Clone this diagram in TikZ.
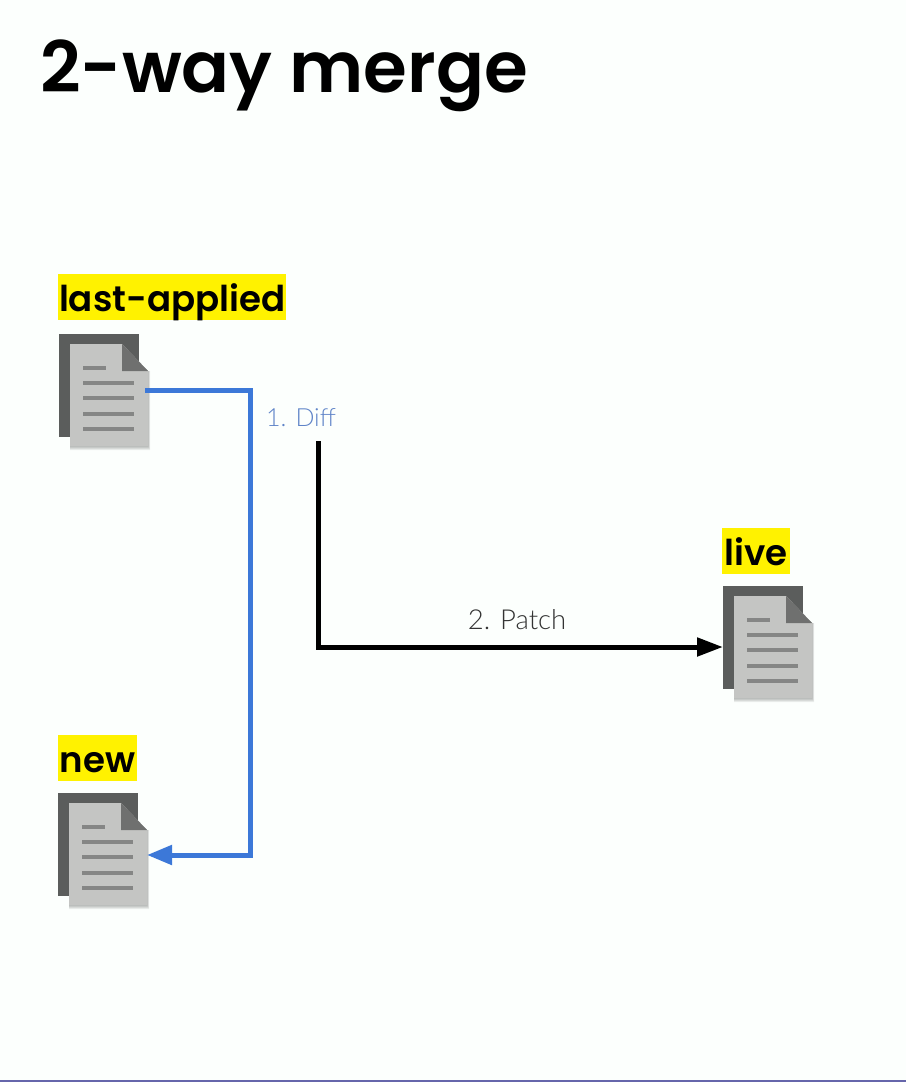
\documentclass[tikz,border=0pt]{standalone}
\usepackage{fontspec}
\setmainfont{Poppins}[BoldFont={Poppins SemiBold}]
\newfontfamily\labelfont{Lato Light}
\usetikzlibrary{arrows.meta,positioning}
\definecolor{slidebg}{HTML}{FCFFFD}
\definecolor{marker}{HTML}{FFF200}
\definecolor{docback}{HTML}{5B5D5C}
\definecolor{docfold}{HTML}{6F706F}
\definecolor{docpage}{HTML}{C4C5C3}
\definecolor{docline}{HTML}{858685}
\definecolor{diffblue}{HTML}{3C78D8}
\definecolor{difftext}{HTML}{5F84C8}
\tikzset{
    title-text/.style = {anchor=base west, inner sep=0pt, font=\fontsize{70.8}{72}\selectfont\bfseries},
    tag-box/.style = {fill=marker, inner sep=0pt, anchor=north west, text height=37pt, text depth=9pt, font=\fontsize{35.6}{36}\selectfont\bfseries},
    step-label/.style = {inner sep=0pt, font=\labelfont\fontsize{27.5}{28}\selectfont},
    diff-line/.style = {draw=diffblue, line width=5pt, -{Triangle[length=25pt,width=19pt]}},
    patch-line/.style = {draw=black, line width=5pt, -{Triangle[length=26pt,width=18pt]}},
    doc-rule/.style = {draw=docline, line width=3.2pt},
    doc-icon/.pic = {
        \fill[docback] (0,0) rectangle (80,103);
        \foreach \s in {1,2,3,4}
            \fill[black, opacity=.07] (11,10) -- (63,10) -- (89,37) -- (89+\s/2,37) -- (89+\s/2,112+\s) -- (11,112+\s) -- cycle;
        \fill[docpage] (11,10) -- (63,10) -- (89,37) -- (89,112) -- (11,112) -- cycle;
        \fill[docfold] (63,10) -- (89,37) -- (63,37) -- cycle;
        \draw[doc-rule] (24,34) -- (47,34);
        \foreach \y in {49,64,80,95}
            \draw[doc-rule] (24,\y) -- (75,\y);
        \coordinate (-out) at (86,56);
        \coordinate (-in) at (89,62);
        \coordinate (-left) at (0,61);
    },
}

\begin{document}
\begin{tikzpicture}[x=1pt,y=-1pt]
\fill[slidebg] (0,0) rectangle (906,1082);
\fill[black!55!blue!60] (0,1080) rectangle (906,1082);
\useasboundingbox (0,0) rectangle (906,1082);

\node[title-text] (title) at (40,92) {2-way merge};

\node[tag-box, minimum width=228pt] (lasttag) at (58,274) {last-applied};
\node[tag-box, minimum width=79pt] (newtag) at (58,735) {new};
\node[tag-box, minimum width=68pt] (livetag) at (722,528) {live};

\pic (lastdoc) at (59,334) {doc-icon};
\pic (newdoc) at (58,793) {doc-icon};
\pic (livedoc) at (723,586) {doc-icon};

\node[step-label, text=difftext, font=\labelfont\fontsize{25}{25}\selectfont] (difflabel) at (301,418) {1. Diff};
\node[step-label, text=black!80] (patchlabel) at (517,620) {2. Patch};
\coordinate (patchstart) at (318,441);

\draw[diff-line] (lastdoc-out) -| (250,855) -- (newdoc-in);
\draw[patch-line] (patchstart) |- (livedoc-left);
\end{tikzpicture}
\end{document}
